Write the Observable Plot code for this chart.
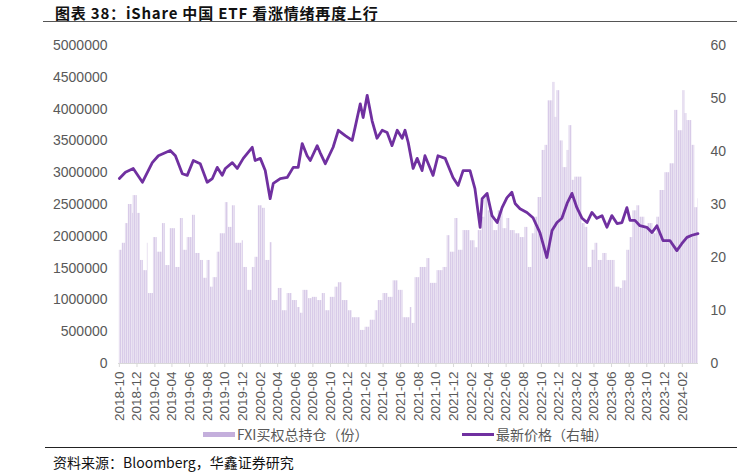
<!DOCTYPE html>
<html>
<head>
<meta charset="utf-8">
<script src="https://cdn.jsdelivr.net/npm/d3@7"></script>
<script src="https://cdn.jsdelivr.net/npm/@observablehq/plot@0.6"></script>
<style>
  html, body { margin: 0; padding: 0; background: #fff; }
  #wrap { position: relative; width: 747px; height: 476px; overflow: hidden; font-family: "Noto Sans CJK SC", "Noto Sans", sans-serif; }
  #chart { position: absolute; left: 0; top: 0; }
  .abs { position: absolute; white-space: nowrap; }
  #title { left: 55px; top: 2px; font-size: 15px; font-weight: bold; color: #111; line-height: 22px; letter-spacing: 0.8px; }
  #tline { left: 43px; top: 21px; width: 694px; height: 1px; background: #555; }
  #fline { left: 45px; top: 447px; width: 692px; height: 1px; background: #222; }
  #foot { left: 53px; top: 452px; font-size: 14px; color: #111; line-height: 20px; }
  .leg { top: 425px; font-size: 14px; color: #595959; line-height: 18px; }
  .sw1 { position: absolute; left: 203px; top: 432px; width: 32px; height: 5px; background: #c4afdc; }
  .sw2 { position: absolute; left: 462px; top: 433px; width: 32px; height: 3px; background: #7030A0; }
</style>
</head>
<body>
<div id="wrap">
  <div id="chart"></div>
  <div id="title" class="abs">图表 38：iShare 中国 ETF 看涨情绪再度上行</div>
  <div id="tline" class="abs"></div>
  <div class="sw1"></div>
  <div class="abs leg" style="left:237px">FXI买权总持仓（份）</div>
  <div class="sw2"></div>
  <div class="abs leg" style="left:496px">最新价格（右轴）</div>
  <div id="fline" class="abs"></div>
  <div id="foot" class="abs">资料来源：Bloomberg，华鑫证券研究</div>
</div>
<script>
// FXI call open interest (contracts)
const barDates = ["2018-10-01","2018-10-11","2018-10-22","2018-11-01","2018-11-15","2018-11-18","2018-12-02","2018-12-13","2018-12-23","2019-01-06","2019-01-09","2019-01-27","2019-02-09","2019-02-27","2019-03-09","2019-03-26","2019-04-13","2019-04-30","2019-05-10","2019-05-24","2019-06-11","2019-06-21","2019-07-08","2019-07-19","2019-08-01","2019-08-12","2019-08-22","2019-09-05","2019-09-15","2019-10-03","2019-10-13","2019-10-27","2019-11-06","2019-11-30","2019-12-04","2019-12-18","2020-01-04","2020-01-14","2020-01-25","2020-02-08","2020-02-18","2020-03-06","2020-03-13","2020-03-31","2020-04-03","2020-04-17","2020-05-04","2020-05-21","2020-06-08","2020-06-18","2020-06-28","2020-07-16","2020-07-30","2020-08-16","2020-09-02","2020-09-13","2020-09-30","2020-10-17","2020-10-28","2020-11-10","2020-12-01","2020-12-15","2021-01-01","2021-01-12","2021-01-29","2021-02-15","2021-03-05","2021-03-15","2021-04-01","2021-04-18","2021-05-06","2021-05-23","2021-05-30","2021-06-09","2021-07-04","2021-07-10","2021-07-21","2021-08-07","2021-08-31","2021-09-11","2021-10-05","2021-10-26","2021-11-09","2021-11-19","2021-12-06","2021-12-17","2022-01-03","2022-01-27","2022-02-13","2022-02-24","2022-03-10","2022-03-20","2022-03-30","2022-04-17","2022-05-04","2022-05-21","2022-06-04","2022-06-14","2022-07-02","2022-07-19","2022-08-05","2022-08-16","2022-08-30","2022-09-09","2022-09-19","2022-10-03","2022-10-14","2022-10-24","2022-11-10","2022-11-17","2022-11-24","2022-12-04","2022-12-15","2022-12-29","2023-01-05","2023-01-15","2023-01-25","2023-02-05","2023-02-19","2023-03-01","2023-03-11","2023-03-25","2023-04-05","2023-04-15","2023-05-02","2023-05-16","2023-06-02","2023-06-13","2023-06-30","2023-07-10","2023-07-24","2023-08-04","2023-08-14","2023-08-28","2023-09-07","2023-09-24","2023-10-05","2023-10-22","2023-11-05","2023-11-15","2023-12-03","2023-12-20","2024-01-06","2024-01-17","2024-02-03","2024-02-10","2024-02-17","2024-03-05","2024-03-15","2024-03-26"];
const barValues = [1780000,1890000,2200000,2500000,2360000,2640000,2360000,1620000,1460000,1890000,1100000,1980000,1750000,2200000,1540000,2120000,1510000,2280000,1780000,1980000,2330000,1730000,1620000,1340000,1620000,1200000,1350000,1750000,2040000,2530000,2140000,2480000,1890000,1930000,1510000,1150000,1510000,1670000,2480000,2440000,1620000,1900000,990000,990000,1180000,830000,1100000,990000,880000,790000,1150000,1020000,1040000,990000,1100000,830000,1040000,1200000,1270000,990000,830000,720000,720000,520000,570000,680000,830000,990000,1100000,1040000,1300000,1150000,1150000,720000,880000,630000,1350000,1510000,1650000,1260000,1460000,1510000,2010000,1750000,2280000,1780000,2090000,1930000,1820000,2090000,2300000,2640000,2400000,2090000,2400000,2120000,2280000,2090000,2040000,1980000,2140000,1510000,2040000,2300000,2610000,3350000,3430000,4130000,4420000,3870000,4290000,3500000,3080000,3350000,3740000,2880000,2930000,2930000,2200000,2140000,1510000,1780000,1890000,1620000,1730000,1620000,1620000,1200000,1180000,1300000,1780000,1980000,2400000,2480000,2300000,2140000,2200000,2040000,2300000,2720000,3000000,3140000,3980000,3660000,4290000,3930000,3820000,3430000,2450000,2590000];
const barEnd = "2024-03-28";

// FXI latest price (right axis)
const priceDates = ["2018-10-01","2018-10-22","2018-11-18","2018-12-20","2019-01-23","2019-02-13","2019-03-26","2019-04-13","2019-05-07","2019-05-24","2019-06-14","2019-07-08","2019-08-01","2019-08-19","2019-09-05","2019-09-22","2019-10-03","2019-10-27","2019-11-13","2019-12-04","2020-01-04","2020-01-14","2020-02-01","2020-02-18","2020-03-06","2020-03-17","2020-04-10","2020-05-04","2020-05-25","2020-06-11","2020-06-25","2020-07-12","2020-07-23","2020-08-16","2020-08-26","2020-09-13","2020-10-10","2020-10-28","2020-11-21","2020-12-15","2020-12-25","2021-01-12","2021-01-22","2021-02-05","2021-02-22","2021-03-11","2021-03-29","2021-04-15","2021-05-02","2021-05-20","2021-06-06","2021-06-16","2021-06-27","2021-07-14","2021-07-28","2021-08-14","2021-08-24","2021-09-21","2021-10-08","2021-11-02","2021-11-29","2021-12-17","2022-01-03","2022-01-27","2022-02-13","2022-03-03","2022-03-10","2022-03-27","2022-04-13","2022-05-01","2022-05-18","2022-06-04","2022-06-21","2022-07-02","2022-07-19","2022-08-12","2022-09-02","2022-09-26","2022-10-20","2022-11-07","2022-11-24","2022-12-11","2022-12-29","2023-01-15","2023-02-01","2023-02-19","2023-03-08","2023-03-25","2023-04-11","2023-04-29","2023-05-16","2023-06-02","2023-06-20","2023-07-07","2023-07-24","2023-08-04","2023-08-21","2023-09-07","2023-10-01","2023-10-19","2023-11-05","2023-11-26","2023-12-20","2024-01-13","2024-01-30","2024-02-17","2024-03-05","2024-03-26"];
const priceValues = [34.9,36.1,36.8,34.2,37.9,39.2,40.2,39.2,35.8,35.5,38.3,37.7,34.2,34.9,37.0,35.5,36.8,37.9,36.8,38.7,40.8,38.3,38.7,36.4,31.1,34.0,34.9,35.1,37.0,37.0,41.5,39.2,38.3,41.1,39.8,37.7,40.8,44.0,43.0,42.1,44.5,49.0,46.4,50.6,45.8,42.5,44.0,43.6,41.1,44.0,42.5,44.0,41.7,36.8,38.7,36.4,39.2,35.5,39.2,38.7,35.1,33.6,36.4,36.4,33.0,25.7,31.1,32.1,27.9,26.6,29.4,31.3,32.3,30.2,29.2,28.5,27.5,24.7,20.0,25.1,26.6,27.4,30.2,32.1,29.4,27.4,26.6,28.5,27.4,27.9,25.7,27.9,26.4,26.6,29.4,27.0,27.0,26.0,25.7,24.7,26.0,23.2,23.2,21.3,22.6,23.8,24.2,24.5];

// axis ticks
const leftTicks = [0,500000,1000000,1500000,2000000,2500000,3000000,3500000,4000000,4500000,5000000];
const rightTicks = [0,10,20,30,40,50,60];
const xTickLabels = ["2018-10","2018-12","2019-02","2019-04","2019-06","2019-08","2019-10","2019-12","2020-02","2020-04","2020-06","2020-08","2020-10","2020-12","2021-02","2021-04","2021-06","2021-08","2021-10","2021-12","2022-02","2022-04","2022-06","2022-08","2022-10","2022-12","2023-02","2023-04","2023-06","2023-08","2023-10","2023-12","2024-02"];

const leftMax = 5000000, rightMax = 60;
const toLeft = v => v * leftMax / rightMax;
const parse = s => new Date(s + "T00:00:00Z");

const bars = barDates.map((d, i) => ({
  d1: parse(d),
  d2: parse(i + 1 < barDates.length ? barDates[i + 1] : barEnd),
  v: barValues[i]
}));
const prices = priceDates.map((d, i) => ({date: parse(d), p: priceValues[i]}));

const plot = Plot.plot({
  width: 747,
  height: 430,
  marginTop: 45,
  marginBottom: 67,
  marginLeft: 118,
  marginRight: 49,
  style: {fontFamily: "'Liberation Sans', Arial, sans-serif", fontSize: "13.5px", color: "#595959", background: "transparent"},
  x: {type: "utc", domain: [parse("2018-09-28"), parse("2024-03-28")]},
  y: {domain: [0, leftMax]},
  marks: [
    Plot.rectY(bars, {x1: "d1", x2: "d2", y: "v", fill: "url(#stripes)"}),
    Plot.ruleY([0], {stroke: "#d9d9d9", strokeWidth: 1}),
    Plot.line(prices, {x: "date", y: d => toLeft(d.p), stroke: "#7030A0", strokeWidth: 2.8, strokeLinejoin: "round"}),
    Plot.axisY({anchor: "left", ticks: leftTicks, tickFormat: d => String(d), tickSize: 0, tickPadding: 11, label: null, fill: "#595959", fontSize: 14}),
    Plot.axisY({anchor: "right", ticks: rightTicks.map(toLeft), tickFormat: d => String(Math.round(d * rightMax / leftMax)), tickSize: 0, tickPadding: 12, label: null, fill: "#595959", fontSize: 14}),
    Plot.axisX({ticks: xTickLabels.map(s => parse(s + "-01")), tickFormat: d3.utcFormat("%Y-%m"), tickRotate: -90, tickSize: 4, tickPadding: 4, stroke: "#d9d9d9", fill: "#595959", label: null})
  ]
});

const svg = d3.select(plot);
const defs = svg.insert("defs", ":first-child");
const pat = defs.append("pattern").attr("id", "stripes").attr("patternUnits", "userSpaceOnUse").attr("width", 2).attr("height", 8);
pat.append("rect").attr("width", 2).attr("height", 8).attr("fill", "#e8e0f1");
pat.append("rect").attr("width", 0.7).attr("height", 8).attr("fill", "#d2c3e4");

document.getElementById("chart").appendChild(plot);
</script>
</body>
</html>
